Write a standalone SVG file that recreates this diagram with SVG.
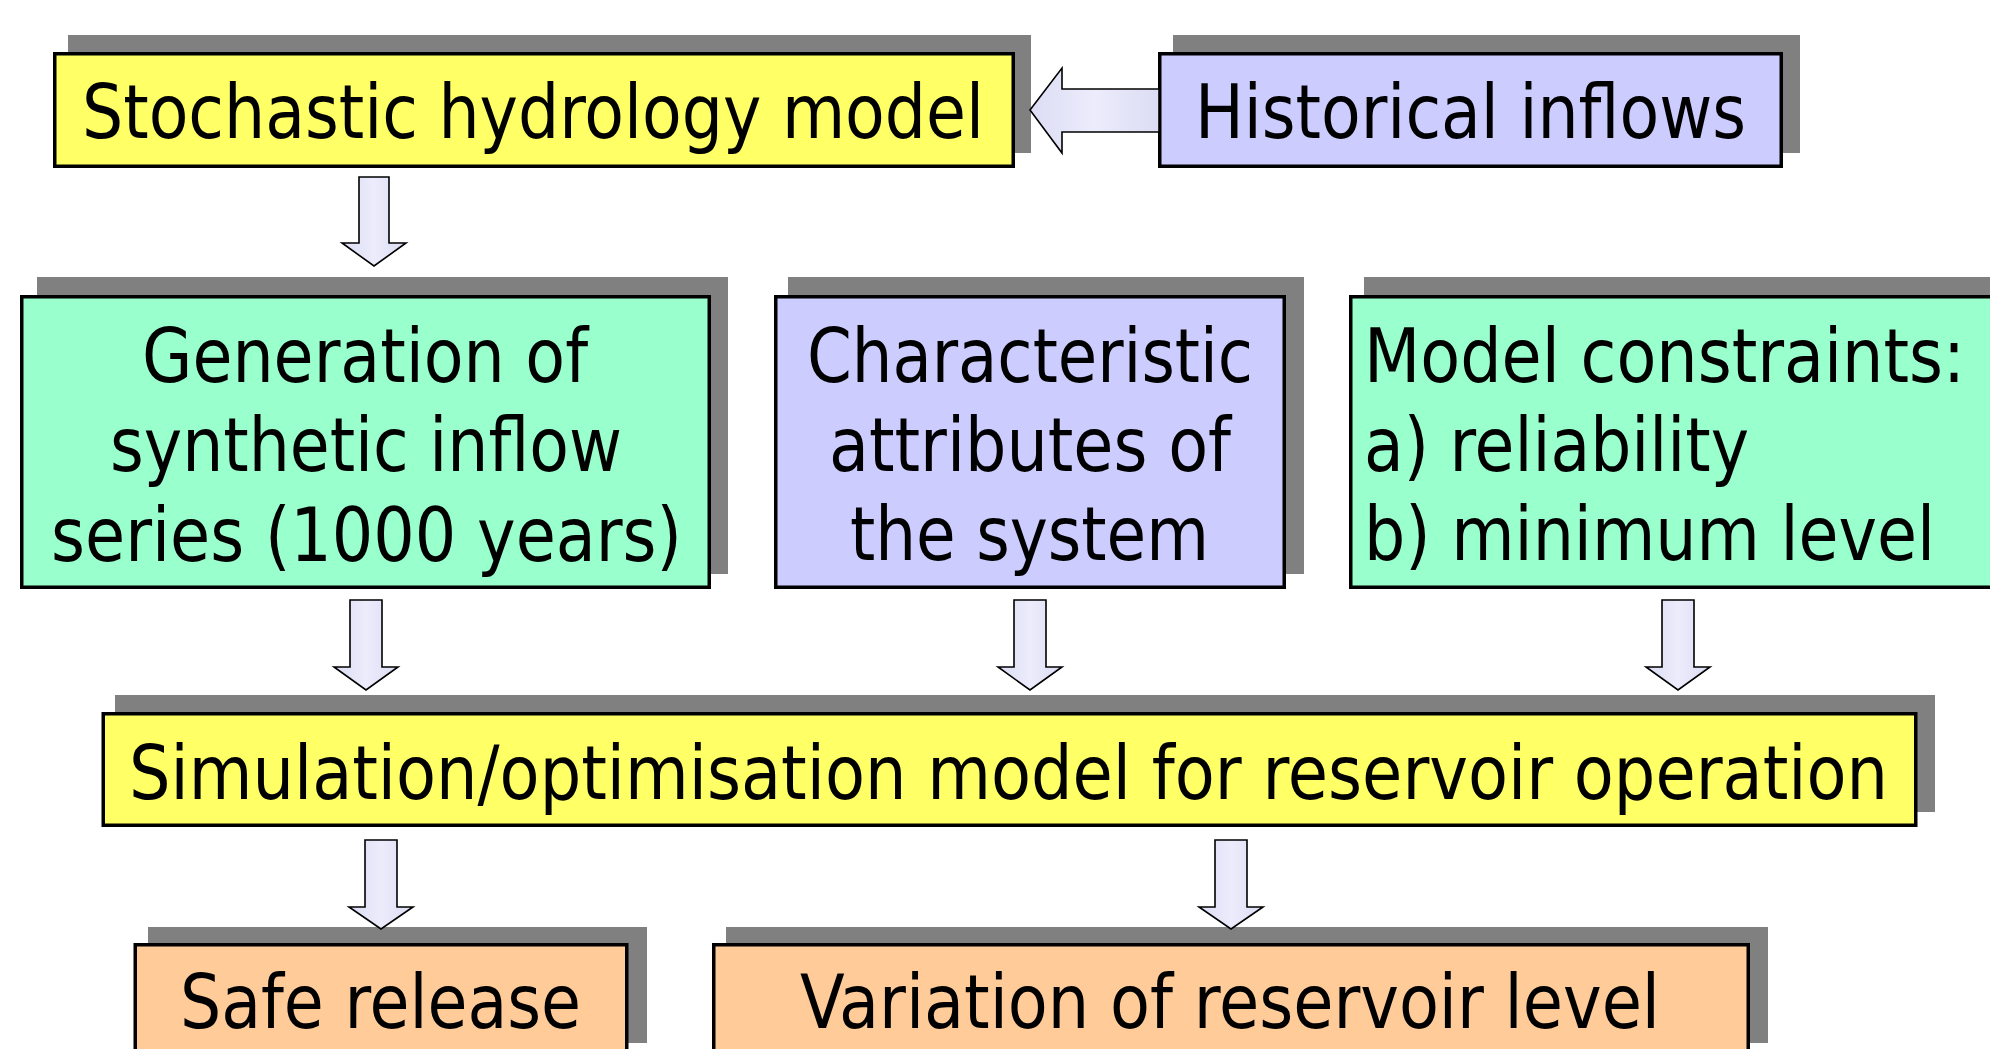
<svg xmlns="http://www.w3.org/2000/svg" width="1990" height="1049" viewBox="0 0 1990 1049">
<style>
.shadow{fill:#808080;stroke:none}
.box{stroke:#000;stroke-width:3.5}
.yellow{fill:#FFFF66}
.green{fill:#99FFCC}
.purple{fill:#CCCCFF}
.orange{fill:#FFCC99}
.lbl{font-family:"DejaVu Sans Condensed","DejaVu Sans",sans-serif;font-size:74px;fill:#000}
.mid{text-anchor:middle}
.arrow{fill:url(#arrowFill);stroke:#000;stroke-width:1.6;stroke-linejoin:miter}
</style>
<defs>
<linearGradient id="arrowFill" x1="0" y1="0" x2="1" y2="0">
<stop offset="0" stop-color="#DCDCF4"/>
<stop offset="0.5" stop-color="#ECECFC"/>
<stop offset="1" stop-color="#DCDCF4"/>
</linearGradient>
</defs>
<rect width="1990" height="1049" fill="#fff"/>

<g id="stochastic">
<rect class="shadow" x="68" y="35" width="963" height="118"/>
<rect class="box yellow" x="54.75" y="53.75" width="958.5" height="112.5"/>
<text class="lbl mid" x="533" y="138" textLength="902" lengthAdjust="spacingAndGlyphs">Stochastic hydrology model</text>
</g>

<g id="historical">
<rect class="shadow" x="1173" y="35" width="627" height="118"/>
<rect class="box purple" x="1159.75" y="53.75" width="621.5" height="112.5"/>
<text class="lbl mid" x="1470.5" y="138" textLength="551" lengthAdjust="spacingAndGlyphs">Historical inflows</text>
</g>

<g id="generation">
<rect class="shadow" x="37" y="277" width="691" height="297"/>
<rect class="box green" x="21.75" y="296.75" width="687.5" height="290.5"/>
<text class="lbl mid" x="365" y="382" textLength="446" lengthAdjust="spacingAndGlyphs">Generation of</text>
<text class="lbl mid" x="366" y="471" textLength="512" lengthAdjust="spacingAndGlyphs">synthetic inflow</text>
<text class="lbl mid" x="366.5" y="561" textLength="631" lengthAdjust="spacingAndGlyphs">series (1000 years)</text>
</g>

<g id="characteristic">
<rect class="shadow" x="788" y="277" width="516" height="297"/>
<rect class="box purple" x="775.75" y="296.75" width="508.5" height="290.5"/>
<text class="lbl mid" x="1030" y="382" textLength="446" lengthAdjust="spacingAndGlyphs">Characteristic</text>
<text class="lbl mid" x="1030" y="471" textLength="402" lengthAdjust="spacingAndGlyphs">attributes of</text>
<text class="lbl mid" x="1029.5" y="560" textLength="359" lengthAdjust="spacingAndGlyphs">the system</text>
</g>

<g id="constraints">
<rect class="shadow" x="1364" y="277" width="660" height="297"/>
<rect class="box green" x="1350.75" y="296.75" width="660" height="290.5"/>
<text class="lbl" x="1364" y="382" textLength="601" lengthAdjust="spacingAndGlyphs">Model constraints:</text>
<text class="lbl" x="1364" y="471" textLength="385" lengthAdjust="spacingAndGlyphs">a) reliability</text>
<text class="lbl" x="1364" y="560" textLength="571" lengthAdjust="spacingAndGlyphs">b) minimum level</text>
</g>

<g id="simulation">
<rect class="shadow" x="115" y="695" width="1820" height="117"/>
<rect class="box yellow" x="103.25" y="713.75" width="1812.5" height="111.5"/>
<text class="lbl mid" x="1008.5" y="799" textLength="1759" lengthAdjust="spacingAndGlyphs">Simulation/optimisation model for reservoir operation</text>
</g>

<g id="safe-release">
<rect class="shadow" x="148" y="927" width="499" height="116"/>
<rect class="box orange" x="135.25" y="944.75" width="491.5" height="130"/>
<text class="lbl mid" x="380.5" y="1028" textLength="401" lengthAdjust="spacingAndGlyphs">Safe release</text>
</g>

<g id="variation">
<rect class="shadow" x="726" y="927" width="1042" height="116"/>
<rect class="box orange" x="713.75" y="944.75" width="1034.5" height="130"/>
<text class="lbl mid" x="1230" y="1028" textLength="860" lengthAdjust="spacingAndGlyphs">Variation of reservoir level</text>
</g>

<g id="connectors">
<polygon class="arrow" points="1159,89 1062,89 1062,68 1030,110 1062,153 1062,132 1159,132"/>
<polygon class="arrow" points="359,177 389,177 389,243 406,243 374,266 342,243 359,243"/>
<polygon class="arrow" points="350,600 382,600 382,667 398,667 366,690 334,667 350,667"/>
<polygon class="arrow" points="1014,600 1046,600 1046,667 1062,667 1030,690 998,667 1014,667"/>
<polygon class="arrow" points="1662,600 1694,600 1694,667 1710,667 1678,690 1646,667 1662,667"/>
<polygon class="arrow" points="365,840 397,840 397,907 413,907 381,929 349,907 365,907"/>
<polygon class="arrow" points="1215,840 1247,840 1247,907 1263,907 1231,929 1199,907 1215,907"/>
</g>
</svg>
